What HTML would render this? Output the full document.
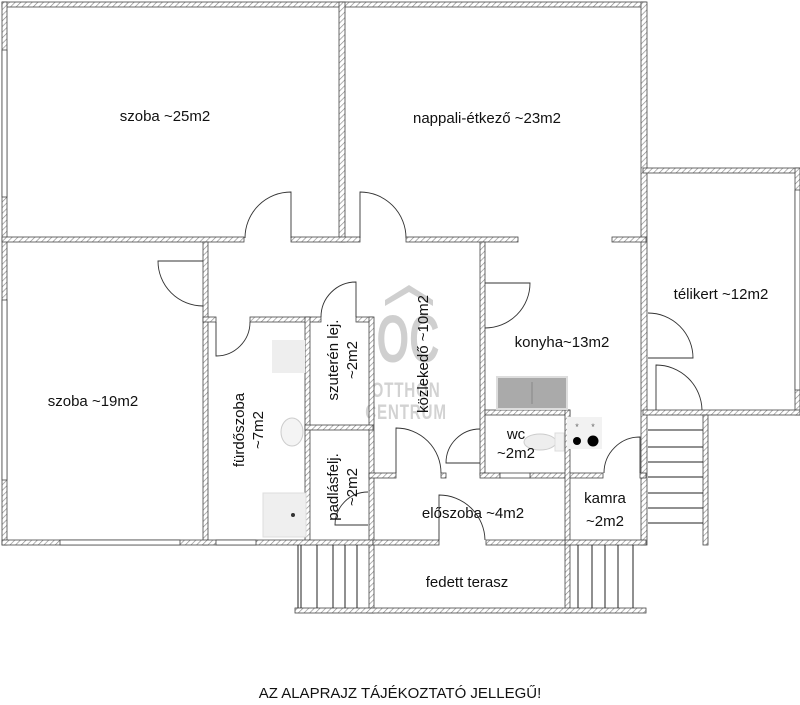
<!DOCTYPE html>
<html><head><meta charset="utf-8"><style>
html,body{margin:0;padding:0;background:#fff;}
svg{display:block;}
text{font-family:"Liberation Sans",sans-serif;font-size:15px;fill:#111;}
</style></head><body>
<svg width="800" height="705" viewBox="0 0 800 705" xmlns="http://www.w3.org/2000/svg">
<defs>
<pattern id="h" width="4" height="4" patternUnits="userSpaceOnUse" patternTransform="rotate(45)">
<rect width="4" height="4" fill="#fff"/>
<line x1="0" y1="0" x2="0" y2="4" stroke="#888" stroke-width="1.3"/>
</pattern>
</defs>
<!-- watermark -->
<g opacity="0.8">
<path d="M385 300 L409 285 L433 300 L433 306 L409 292 L385 306Z" fill="#c4c4c4"/>
<text transform="translate(408,362) scale(0.75,1.2)" text-anchor="middle" style="font-size:56px;fill:#c4c4c4;font-weight:bold">OC</text>
<text transform="translate(406,397) scale(0.8,1.1)" text-anchor="middle" style="font-size:19px;fill:#c8c8c8;font-weight:bold;letter-spacing:1px">OTTHON</text>
<text transform="translate(406,419) scale(0.8,1.1)" text-anchor="middle" style="font-size:19px;fill:#c8c8c8;font-weight:bold;letter-spacing:1px">CENTRUM</text>
</g>
<g fill="url(#h)" stroke="#444" stroke-width="0.8">
<rect x="2" y="2" width="644" height="5"/>
<rect x="2" y="2" width="5" height="543"/>
<rect x="339" y="2" width="6" height="240"/>
<rect x="641" y="2" width="6" height="543"/>
<rect x="643" y="168" width="157" height="5"/>
<rect x="795" y="168" width="5" height="247"/>
<rect x="643" y="410" width="157" height="5"/>
<rect x="2" y="237" width="242" height="5"/>
<rect x="291" y="237" width="69" height="5"/>
<rect x="406" y="237" width="112" height="5"/>
<rect x="612" y="237" width="34" height="5"/>
<rect x="203" y="242" width="5" height="303"/>
<rect x="480" y="242" width="5" height="233"/>
<rect x="203" y="317" width="13" height="5"/>
<rect x="250" y="317" width="71" height="5"/>
<rect x="356" y="317" width="17" height="5"/>
<rect x="305" y="317" width="5" height="228"/>
<rect x="369" y="317" width="5" height="296"/>
<rect x="305" y="425" width="68" height="5"/>
<rect x="369" y="473" width="27" height="5"/>
<rect x="441" y="473" width="5" height="5"/>
<rect x="480" y="473" width="20" height="5"/>
<rect x="530" y="473" width="73" height="5"/>
<rect x="640" y="473" width="6" height="5"/>
<rect x="485" y="410" width="85" height="5"/>
<rect x="565" y="410" width="5" height="203"/>
<rect x="565" y="540" width="81" height="5"/>
<rect x="2" y="540" width="371" height="5"/>
<rect x="373" y="540" width="66" height="5"/>
<rect x="486" y="540" width="79" height="5"/>
<rect x="295" y="608" width="351" height="5"/>
<rect x="703" y="415" width="5" height="130"/>
</g>
<!-- windows -->
<g fill="#fff" stroke="#444" stroke-width="0.8">
<rect x="2" y="50" width="5" height="147"/>
<rect x="2" y="300" width="5" height="180"/>
<rect x="795" y="190" width="5" height="200"/>
<rect x="60" y="540" width="120" height="5"/>
<rect x="216" y="540" width="40" height="5"/>
<rect x="500" y="473" width="30" height="5"/>
</g>
<!-- stairs -->
<g stroke="#222" stroke-width="1" fill="none">
<line x1="298" y1="545" x2="298" y2="608"/><line x1="301" y1="545" x2="301" y2="608"/>
<line x1="317" y1="545" x2="317" y2="608"/><line x1="333" y1="545" x2="333" y2="608"/>
<line x1="345" y1="545" x2="345" y2="608"/><line x1="357" y1="545" x2="357" y2="608"/>
<line x1="578" y1="545" x2="578" y2="608"/><line x1="592" y1="545" x2="592" y2="608"/>
<line x1="605" y1="545" x2="605" y2="608"/><line x1="618" y1="545" x2="618" y2="608"/>
<line x1="633" y1="545" x2="633" y2="608"/>
<line x1="648" y1="430" x2="703" y2="430"/><line x1="648" y1="447" x2="703" y2="447"/>
<line x1="648" y1="462" x2="703" y2="462"/><line x1="648" y1="477" x2="703" y2="477"/>
<line x1="648" y1="493" x2="703" y2="493"/><line x1="648" y1="508" x2="703" y2="508"/>
<line x1="648" y1="523" x2="703" y2="523"/>
</g>
<!-- doors -->
<g stroke="#333" stroke-width="0.9" fill="none">
<path d="M291 238 V192 A46 46 0 0 0 245 238"/>
<path d="M360 238 V192 A46 46 0 0 1 406 238"/>
<path d="M203 261 H158 A45 45 0 0 0 203 306"/>
<path d="M356 317 V282 A35 35 0 0 0 321 317"/>
<path d="M216 322 V356 A34 34 0 0 0 250 322"/>
<path d="M396 473 V428 A45 45 0 0 1 441 473"/>
<path d="M480 463 H446 A34 34 0 0 1 480 429"/>
<path d="M485 283 H530 A45 45 0 0 1 485 328"/>
<path d="M439 540 V495 A46 46 0 0 1 485 540"/>
<path d="M368 525 H335 A33 33 0 0 1 368 492"/>
<path d="M640 473 V437 A36 36 0 0 0 604 473"/>
<path d="M648 358 H693 A45 45 0 0 0 648 313"/>
<path d="M656 410 V365 A46 46 0 0 1 702 410"/>
</g>
<!-- fixtures -->
<rect x="497" y="377" width="70" height="32" fill="#aaa" stroke="#ddd" stroke-width="2"/>
<line x1="532" y1="382" x2="532" y2="404" stroke="#888"/>
<rect x="567" y="417" width="35" height="32" fill="#f2f2f2"/>
<circle cx="577" cy="441" r="4" fill="#000"/><circle cx="593" cy="441" r="5.5" fill="#000"/>
<text x="577" y="430" text-anchor="middle" style="font-size:9px;fill:#666">*</text>
<text x="593" y="430" text-anchor="middle" style="font-size:9px;fill:#666">*</text>
<ellipse cx="540" cy="442" rx="16" ry="8" fill="#eee" stroke="#ccc"/>
<rect x="555" y="433" width="9" height="18" fill="#f2f2f2" stroke="#ddd"/>
<rect x="272" y="340" width="33" height="33" fill="#eee"/>
<ellipse cx="292" cy="432" rx="11" ry="14" fill="#f4f4f4" stroke="#ccc"/>
<rect x="263" y="493" width="43" height="44" fill="#efefef" stroke="#ddd"/>
<circle cx="293" cy="515" r="2" fill="#333"/>
<!-- labels -->
<text x="165" y="121" text-anchor="middle">szoba ~25m2</text>
<text x="487" y="123" text-anchor="middle">nappali-étkező ~23m2</text>
<text x="93" y="406" text-anchor="middle">szoba ~19m2</text>
<text x="721" y="299" text-anchor="middle">télikert ~12m2</text>
<text x="562" y="347" text-anchor="middle">konyha~13m2</text>
<text x="516" y="439" text-anchor="middle">wc</text>
<text x="516" y="458" text-anchor="middle">~2m2</text>
<text x="473" y="518" text-anchor="middle">előszoba ~4m2</text>
<text x="605" y="503" text-anchor="middle">kamra</text>
<text x="605" y="526" text-anchor="middle">~2m2</text>
<text x="467" y="587" text-anchor="middle">fedett terasz</text>
<text transform="translate(248,430) rotate(-90)" text-anchor="middle"><tspan x="0" y="-4">fürdőszoba</tspan><tspan x="0" y="15">~7m2</tspan></text>
<text transform="translate(342,360) rotate(-90)" text-anchor="middle"><tspan x="0" y="-4">szuterén lej.</tspan><tspan x="0" y="15">~2m2</tspan></text>
<text transform="translate(342,487) rotate(-90)" text-anchor="middle"><tspan x="0" y="-4">padlásfelj.</tspan><tspan x="0" y="15">~2m2</tspan></text>
<text transform="translate(428,354) rotate(-90)" text-anchor="middle">közlekedő ~10m2</text>
<text x="400" y="698" text-anchor="middle">AZ ALAPRAJZ TÁJÉKOZTATÓ JELLEGŰ!</text>
</svg>
</body></html>
